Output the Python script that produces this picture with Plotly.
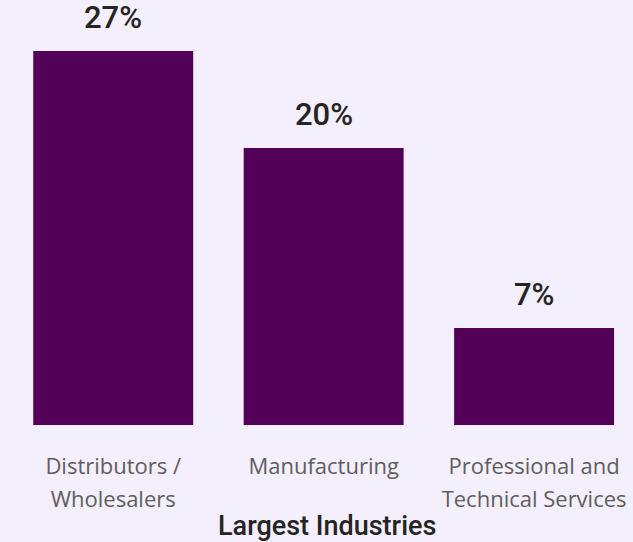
import plotly.graph_objects as go

# Share of organisations by industry (percent)
categories = ["Distributors / Wholesalers", "Manufacturing", "Professional and Technical Services"]
label_line1 = ["Distributors /", "Manufacturing", "Professional and"]
label_line2 = ["Wholesalers", "", "Technical Services"]
values = [27, 20, 7]
value_labels = ["27%", "20%", "7%"]

BG = "#F3EFFC"
BAR = "#520058"
DARK = "#252423"
GREY = "#605E5C"

fig = go.Figure()
fig.add_trace(go.Bar(
    x=categories, y=values, marker=dict(color=BAR, line=dict(width=0)),
    hoverinfo="skip", showlegend=False,
))

# value labels above each bar
for cat, val, txt in zip(categories, values, value_labels):
    fig.add_annotation(
        x=cat, y=val, xref="x", yref="y", text=txt, showarrow=False,
        yanchor="bottom", yshift=13,
        font=dict(family="Roboto", size=31, color=DARK, weight=500),
    )

# axis title
fig.add_annotation(
    x=categories[1], y=0, xref="x", yref="paper", text="Largest Industries",
    showarrow=False, yanchor="middle", yshift=-101, xshift=3,
    font=dict(family="Roboto", size=27, color=DARK, weight=500),
)

fig.update_layout(
    width=633, height=542,
    margin=dict(l=8, r=0, t=0, b=117),
    paper_bgcolor=BG, plot_bgcolor=BG,
    bargap=0.24,
    xaxis=dict(
        type="category", categoryarray=categories, range=[-0.5, 2.47],
        tickmode="array", tickvals=categories, ticktext=label_line1,
        ticks="", showline=False, showgrid=False, zeroline=False,
        ticklabelstandoff=26,
        tickfont=dict(family="Open Sans", size=22, color=GREY),
    ),
    xaxis2=dict(
        type="category", categoryarray=categories, range=[-0.5, 2.47],
        overlaying="x", anchor="y", side="bottom", matches="x",
        tickmode="array", tickvals=categories, ticktext=label_line2,
        ticks="", showline=False, showgrid=False, zeroline=False,
        ticklabelstandoff=59,
        tickfont=dict(family="Open Sans", size=22, color=GREY),
    ),
    yaxis=dict(range=[0, 30.69], visible=False, showgrid=False, zeroline=False),
)

# invisible companion trace so the second-line axis is drawn
fig.add_trace(go.Scatter(
    x=categories, y=[None] * len(categories), xaxis="x2", yaxis="y",
    mode="markers", hoverinfo="skip", showlegend=False,
))

fig.write_html("out.html")
